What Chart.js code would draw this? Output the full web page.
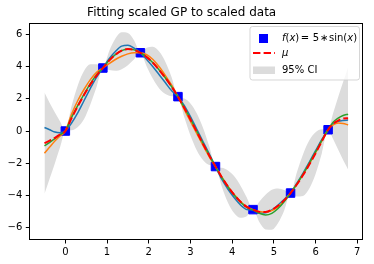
<!DOCTYPE html>
<html><head><meta charset="utf-8">
<script src="https://cdn.jsdelivr.net/npm/chart.js@4.4.0/dist/chart.umd.min.js"></script>
<style>html,body{margin:0;padding:0;background:#fff;}</style>
</head><body>
<canvas id="c" width="374" height="264" style="width:374px;height:264px;display:block"></canvas>
<script>
// ---- data ----
const titleText = 'Fitting scaled GP to scaled data';
const xs = [-0.5,-0.375,-0.25,-0.125,0,0.15,0.3,0.45,0.6,0.75,0.9,1.05,1.2,1.35,1.5,1.65,1.8,1.95,2.1,2.25,2.4,2.55,2.7,2.85,3.0,3.15,3.3,3.45,3.6,3.75,3.9,4.05,4.2,4.35,4.5,4.65,4.8,4.95,5.1,5.25,5.4,5.55,5.7,5.85,6.0,6.15,6.3,6.42,6.54,6.66,6.78];
const obsX = [0,0.9,1.8,2.7,3.6,4.5,5.4,6.3];
const obsY = [0,3.92,4.87,2.14,-2.21,-4.89,-3.86,0.08];
const meanY = [-0.75,-0.6,-0.42,-0.2,0,0.8,1.55,2.25,2.9,3.45,3.92,4.38,4.75,5.0,5.1,5.05,4.87,4.6,4.25,3.8,3.3,2.75,2.14,1.45,0.72,-0.04,-0.8,-1.53,-2.21,-2.87,-3.46,-3.97,-4.4,-4.72,-4.89,-5.03,-5.04,-4.9,-4.65,-4.3,-3.86,-3.33,-2.74,-2.08,-1.38,-0.64,0.08,0.45,0.65,0.78,0.8];
const upperY = [2.40,1.75,1.16,0.60,0,1.55,2.85,3.75,4.15,4.15,3.92,4.96,5.75,6.15,6.10,5.63,4.87,5.18,5.25,4.95,4.30,3.33,2.14,2.03,1.72,1.11,0.20,-0.95,-2.21,-2.29,-2.46,-2.82,-3.40,-4.14,-4.89,-4.40,-3.96,-3.65,-3.57,-3.67,-3.86,-2.58,-1.44,-0.58,-0.08,0.11,0.08,1.1,2.1,3.05,3.95];
const lowerY = [-3.90,-2.95,-2.00,-1.00,0,0.05,0.25,0.75,1.65,2.75,3.92,3.80,3.75,3.85,4.10,4.47,4.87,4.02,3.25,2.65,2.30,2.17,2.14,0.87,-0.28,-1.19,-1.80,-2.11,-2.21,-3.45,-4.46,-5.12,-5.40,-5.30,-4.89,-5.66,-6.12,-6.15,-5.73,-4.93,-3.86,-4.08,-4.04,-3.58,-2.68,-1.39,0.08,-0.5,-1.15,-1.8,-2.4];
const sampleBlue = [0.22,0.08,-0.06,-0.1,0,0.5,1.15,1.9,2.65,3.35,3.92,4.5,4.95,5.28,5.33,5.15,4.87,4.45,4.0,3.5,3.0,2.5,2.14,1.6,0.9,0.12,-0.65,-1.42,-2.21,-3.0,-3.62,-4.15,-4.6,-4.88,-4.92,-5.1,-5.08,-4.9,-4.6,-4.25,-3.86,-3.25,-2.62,-1.93,-1.22,-0.52,0.08,0.45,0.6,0.66,0.68];
const sampleOrange = [-1.38,-1.0,-0.62,-0.3,0,1.05,1.9,2.6,3.2,3.65,3.92,4.2,4.45,4.65,4.8,4.87,4.87,4.75,4.45,4.0,3.45,2.85,2.14,1.35,0.6,-0.15,-0.9,-1.6,-2.21,-2.85,-3.45,-3.95,-4.38,-4.7,-4.89,-5.0,-5.05,-4.95,-4.7,-4.32,-3.86,-3.3,-2.7,-2.05,-1.35,-0.62,0.08,0.38,0.5,0.47,0.38];
const sampleGreen = [-0.93,-0.7,-0.47,-0.22,0,0.85,1.6,2.3,2.95,3.5,3.92,4.4,4.75,5.0,5.1,5.05,4.87,4.6,4.25,3.8,3.3,2.75,2.14,1.47,0.75,0.0,-0.76,-1.5,-2.21,-2.88,-3.48,-4.0,-4.43,-4.75,-4.92,-5.12,-5.22,-5.12,-4.82,-4.38,-3.86,-3.3,-2.68,-2.0,-1.3,-0.58,0.08,0.55,0.8,0.97,1.05];
const xTicks = [0,1,2,3,4,5,6,7];
const yTicks = [-6,-4,-2,0,2,4,6];
const legendLabels = ['f(x) = 5 * sin(x)', 'μ', '95% CI'];

const pts = (xa, ya) => xa.map((x, i) => ({x: x, y: ya[i]}));
const fmt = v => (v < 0 ? '\u2212' + Math.abs(v) : String(v));
const FONT = "'DejaVu Sans', sans-serif";

const framePlugin = {
  id: 'frame',
  afterDraw(chart) {
    const a = chart.chartArea, ctx = chart.ctx;
    ctx.save();
    ctx.strokeStyle = '#000';
    ctx.lineWidth = 1;
    const l = Math.round(a.left) + 0.5, t = Math.round(a.top) + 0.5;
    const r = Math.round(a.right) - 0.5, b = Math.round(a.bottom) - 0.5;
    ctx.strokeRect(l, t, r - l, b - t);
    ctx.restore();
  }
};

// parts: [text, italic, startX?, centred?]
function drawRich(ctx, parts, x, y) {
  let cx = x;
  parts.forEach(p => {
    ctx.font = (p[1] ? 'italic ' : '') + '10px ' + FONT;
    const w = ctx.measureText(p[0]).width;
    if (p.length > 2) cx = p[3] ? p[2] - w / 2 : p[2];
    ctx.fillText(p[0], cx, y);
    cx += w;
  });
}

const legendPlugin = {
  id: 'customLegend',
  afterDraw(chart) {
    const ctx = chart.ctx;
    ctx.save();
    const bx = 250, by = 26.5, bw = 109.5, bh = 53.5, r = 2.5;
    ctx.beginPath();
    ctx.moveTo(bx + r, by);
    ctx.arcTo(bx + bw, by, bx + bw, by + bh, r);
    ctx.arcTo(bx + bw, by + bh, bx, by + bh, r);
    ctx.arcTo(bx, by + bh, bx, by, r);
    ctx.arcTo(bx, by, bx + bw, by, r);
    ctx.closePath();
    ctx.fillStyle = 'rgba(255,255,255,0.8)';
    ctx.fill();
    ctx.strokeStyle = 'rgba(204,204,204,0.8)';
    ctx.lineWidth = 1;
    ctx.stroke();
    ctx.fillStyle = '#0000ff';
    ctx.fillRect(259, 34, 9, 9);
    ctx.strokeStyle = '#ff0000';
    ctx.lineWidth = 2;
    ctx.setLineDash([7.4, 3.2]);
    ctx.beginPath(); ctx.moveTo(253, 53); ctx.lineTo(275, 53); ctx.stroke();
    ctx.setLineDash([]);
    ctx.fillStyle = '#dcdcdc';
    ctx.fillRect(253, 66.5, 22, 7.5);
    ctx.fillStyle = '#000';
    ctx.textBaseline = 'middle';
    drawRich(ctx, [['f', 1, 282], ['(', 0], ['x', 1], [')', 0],
                   ['=', 0, 305, 1], ['5', 0, 316, 1], ['\u2217', 0, 324, 1],
                   ['sin(', 0, 329], ['x', 1], [')', 0]], 282, 38.5);
    drawRich(ctx, [[legendLabels[1], 1]], 282, 53.5);
    drawRich(ctx, [[legendLabels[2], 0]], 282, 70.5);
    ctx.restore();
  }
};

new Chart(document.getElementById('c'), {
  type: 'line',
  data: {
    datasets: [
      {label: 'mu', data: pts(xs, meanY), borderColor: '#ff0000', borderWidth: 2, borderDash: [7.4, 3.2],
       pointRadius: 0, fill: false, cubicInterpolationMode: 'monotone'},
      {label: 's3', data: pts(xs, sampleGreen), borderColor: '#2ca02c', borderWidth: 1.5, pointRadius: 0, fill: false, cubicInterpolationMode: 'monotone'},
      {label: 's2', data: pts(xs, sampleOrange), borderColor: '#ff7f0e', borderWidth: 1.5, pointRadius: 0, fill: false, cubicInterpolationMode: 'monotone'},
      {label: 's1', data: pts(xs, sampleBlue), borderColor: '#1f77b4', borderWidth: 1.5, pointRadius: 0, fill: false, cubicInterpolationMode: 'monotone'},
      {label: 'obs', data: pts(obsX, obsY), showLine: false, pointStyle: 'rect', pointRadius: 6,
       pointBackgroundColor: '#0000ff', pointBorderColor: '#0000ff', pointBorderWidth: 1},
      {label: 'upper', data: pts(xs, upperY), borderWidth: 0, borderColor: 'rgba(0,0,0,0)', pointRadius: 0,
       backgroundColor: '#dcdcdc', fill: '+1', cubicInterpolationMode: 'monotone'},
      {label: 'lower', data: pts(xs, lowerY), borderWidth: 0, borderColor: 'rgba(0,0,0,0)', pointRadius: 0,
       fill: false, cubicInterpolationMode: 'monotone'}
    ]
  },
  options: {
    responsive: false,
    animation: false,
    devicePixelRatio: 1,
    layout: {padding: {left: 0, right: 10.7, top: 0, bottom: 0}},
    plugins: {
      legend: {display: false},
      tooltip: {enabled: false},
      title: {display: true, text: titleText, color: '#000', font: {family: FONT, size: 12, weight: 'normal'},
              padding: {top: 6, bottom: 2.3}}
    },
    scales: {
      x: {
        type: 'linear', min: -0.864, max: 7.144,
        afterBuildTicks: s => { s.ticks = xTicks.map(v => ({value: v})); },
        afterFit: s => { s.height = 24; },
        ticks: {color: '#000', font: {family: FONT, size: 10}, padding: 2.5, maxRotation: 0, autoSkip: false,
                callback: v => fmt(v)},
        grid: {drawOnChartArea: false, drawTicks: true, tickLength: 3.5, color: '#000', lineWidth: 1},
        border: {display: false}
      },
      y: {
        type: 'linear', min: -6.78, max: 6.74,
        afterBuildTicks: s => { s.ticks = yTicks.map(v => ({value: v})); },
        afterFit: s => { s.width = 29.3; },
        ticks: {color: '#000', font: {family: FONT, size: 10}, padding: 3.5, autoSkip: false,
                callback: v => fmt(v)},
        grid: {drawOnChartArea: false, drawTicks: true, tickLength: 3.5, color: '#000', lineWidth: 1},
        border: {display: false}
      }
    }
  },
  plugins: [framePlugin, legendPlugin]
});
</script>
</body></html>
